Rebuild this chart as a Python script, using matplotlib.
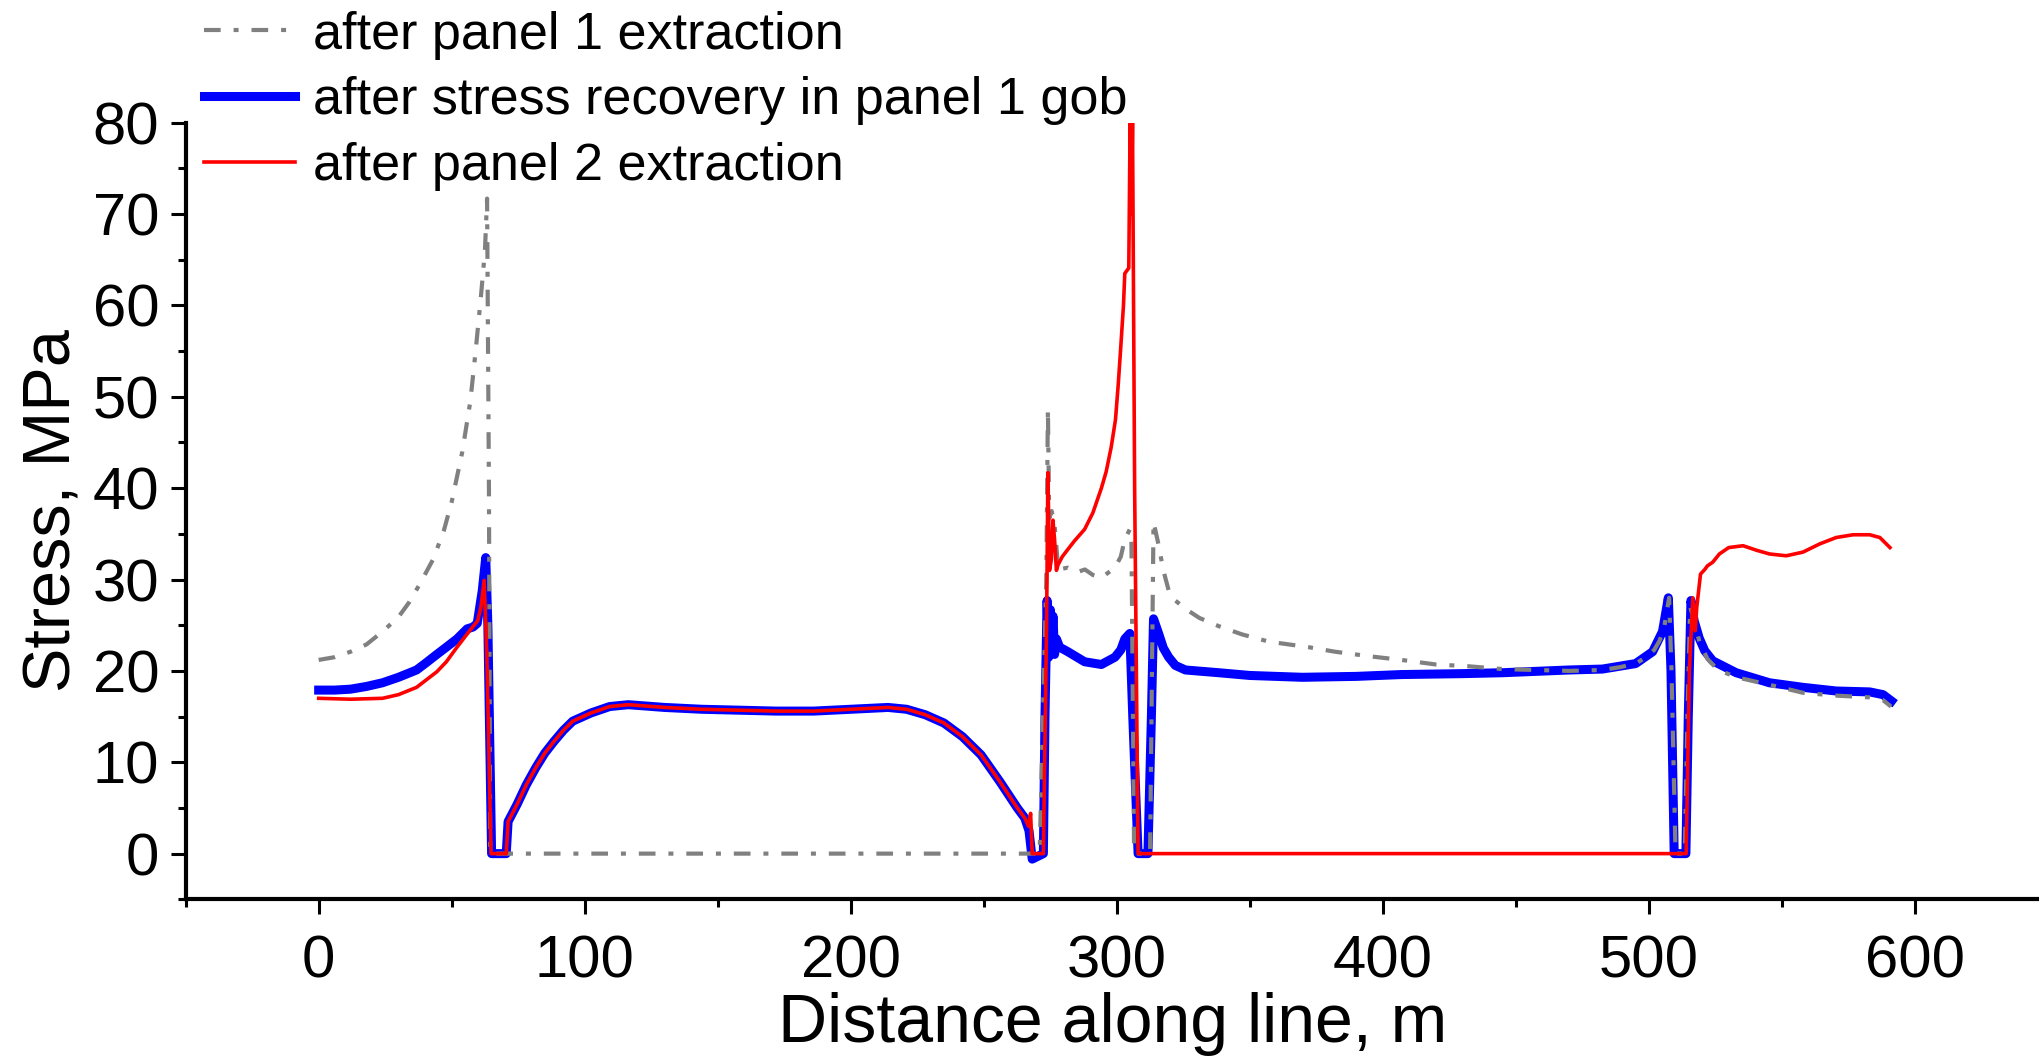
import numpy as np
import matplotlib
matplotlib.use("Agg")
import matplotlib.pyplot as plt
from matplotlib.ticker import MultipleLocator

plt.rcParams['font.family'] = ['Liberation Sans', 'DejaVu Sans']

# after panel 1 extraction (grey dash-dot)
x_p1 = [0, 6, 12, 18, 24, 30, 34, 38, 43, 47, 50, 54, 57, 59, 61, 62.5, 63.3, 64, 64.5,
        271, 273.5, 274.1, 274.6, 275.5, 276.6, 278, 281.6, 285, 288, 291, 294.2, 297, 299.3,
        301.5, 303, 304.9, 305.5, 306.5, 312.5, 313.8, 315.7, 317.5, 319.5, 322, 325.8, 331,
        338.3, 347, 357.2, 372, 382, 395, 407, 420, 432.5, 445, 470, 482.5, 489, 495, 499,
        502, 504, 505.7, 507.6, 508.5, 510, 513.5, 514.5, 515.5, 517, 519, 522, 526, 533,
        545, 558, 570, 583, 588, 591]
y_p1 = [21.2, 21.5, 22.1, 22.9, 24.3, 25.9, 27.5, 29.5, 32.2, 35.3, 38.5, 44, 49.5, 55, 61, 66, 71.7, 40, 0,
        0, 30, 48.7, 36.7, 37.5, 36, 31.1, 31.3, 30.8, 31.1, 30.5, 30.2, 30.8, 31.3,
        32.5, 34.4, 35.5, 34, 0, 0, 36.3, 33.8, 31, 28.8, 27.7, 26.8, 25.8,
        24.9, 24, 23.2, 22.6, 22.1, 21.6, 21.2, 20.7, 20.5, 20.2, 20.0, 20.1, 20.4, 20.8, 21.5,
        22.3, 23.3, 24.7, 28.0, 20, 0, 0, 15, 27, 25.5, 23.2, 21.3, 20.1, 19.3,
        18.5, 17.6, 17.3, 17.1, 16.8, 16.1]

# after stress recovery in panel 1 gob (blue)
x_rec = [0, 6, 12, 18, 24, 30, 36.8, 40, 44.4, 48, 52, 55.8, 58, 59.6, 61.5, 62.8, 63.6, 65,
         70.5, 71.2, 74.6, 78, 81.6, 85, 88.5, 92, 95.5, 102.4, 109.4, 116.4, 130, 144, 158,
         172, 186, 200, 214, 221, 228, 235, 242, 249, 256, 262.6, 265.4, 267, 268.2, 272.4,
         273, 273.8, 274.4, 275, 275.4, 276, 276.6, 277.3, 278.5, 281.6, 287.9, 294.2, 299.3,
         301.5, 303, 304.9, 306, 308, 311.7, 313, 313.8, 315.7, 317.5, 319.5, 322, 325.8,
         338.3, 350, 369.7, 390, 407, 430, 445, 470, 482.5, 495, 501.4, 505.1, 507.3, 508.3,
         509.5, 513.9, 514.8, 515.8, 517, 518.9, 521, 524, 532.8, 545.3, 557.9, 570.4, 583,
         588, 591.2]
y_rec = [17.9, 17.9, 18.0, 18.3, 18.7, 19.3, 20.1, 20.8, 21.8, 22.6, 23.5, 24.6, 24.8, 25.2, 28.8, 32.4, 25, 0,
         0, 3.5, 5.4, 7.5, 9.4, 11, 12.3, 13.5, 14.5, 15.4, 16.1, 16.3, 16.0, 15.8, 15.7,
         15.6, 15.6, 15.8, 16.0, 15.8, 15.2, 14.3, 12.8, 10.8, 7.9, 5.0, 3.9, 2.5, -0.6, 0,
         15, 27.7, 21.5, 26.7, 22, 26, 21.8, 23.5, 22.6, 22.1, 21.0, 20.7, 21.5,
         22.3, 23.5, 24.1, 15, 0, 0, 15, 25.7, 24.1, 22.5, 21.5, 20.6, 20.1,
         19.8, 19.5, 19.3, 19.4, 19.6, 19.7, 19.8, 20.1, 20.2, 20.8, 22.1, 24.3, 28.0, 20,
         0, 0, 15, 27.7, 25.5, 23.6, 22.2, 21.1, 19.8, 18.7, 18.2, 17.8, 17.7,
         17.4, 16.7]

# after panel 2 extraction (red)
x_p2 = [0, 12, 24, 30, 36.8, 44.4, 48, 52, 56.5, 59.8, 61, 62.2, 63.2, 64.8,
        70.5, 71.2, 74.6, 78, 81.6, 85, 88.5, 92, 95.5, 102.4, 109.4, 116.4, 130, 144, 158,
        172, 186, 200, 214, 221, 228, 235, 242, 249, 256, 262.6, 265.4, 266.8, 267.6, 268.2,
        272.4, 273.6, 274.1, 274.7, 275.4, 276, 276.6, 277.3, 277.9, 279.5, 281.6, 284, 287.9,
        291, 294.2, 296, 297.9, 299.5, 300.5, 301.5, 302.5, 303, 304.5, 305, 305.5, 305.9,
        306.7, 308, 514, 515.2, 516.5, 517.4, 518, 519.4, 521, 522, 524, 526.5, 530, 535.4,
        540.5, 545.3, 551.6, 557.9, 564.2, 570.4, 576.7, 583, 586.8, 590.6]
y_p2 = [17.0, 16.9, 17.0, 17.4, 18.2, 19.9, 21.0, 22.6, 24.3, 25.5, 27, 29.9, 22, 0,
        0, 3.5, 5.4, 7.5, 9.4, 11, 12.3, 13.5, 14.5, 15.4, 16.1, 16.3, 16.0, 15.8, 15.7,
        15.6, 15.6, 15.8, 16.0, 15.8, 15.2, 14.3, 12.8, 10.8, 7.9, 5.0, 3.9, 3, 4.4, 0,
        0, 25, 41.7, 31, 32.2, 36.5, 34.4, 31, 31.6, 32.5, 33.3, 34.2, 35.5,
        37.3, 40.0, 41.8, 44.5, 47.5, 51.2, 55.5, 60, 63.5, 64.1, 80, 70, 80,
        40, 0, 0, 20, 28.0, 24.4, 27, 30.6, 31.1, 31.5, 31.9, 32.8, 33.5, 33.7,
        33.2, 32.8, 32.6, 33.0, 33.9, 34.6, 34.9, 34.9, 34.6, 33.5]

fig = plt.figure(figsize=(20.4, 10.58), dpi=100)
ax = fig.add_axes([0.091, 0.150, 0.909, 0.734])

l_rec, = ax.plot(x_rec, y_rec, color='#0000ff', lw=6.5, solid_joinstyle='round',
                 label='after stress recovery in panel 1 gob', zorder=2)
l_p1, = ax.plot(x_p1, y_p1, color='#808080', lw=3, linestyle=(0, (4, 3.1, 1.2, 3.1)),
                label='after panel 1 extraction', zorder=3)
l_p2, = ax.plot(x_p2, y_p2, color='#ff0000', lw=2.6, label='after panel 2 extraction', zorder=4)

ax.set_xlim(-50, 647)
ax.set_ylim(-5, 80)
ax.xaxis.set_major_locator(MultipleLocator(100))
ax.xaxis.set_minor_locator(MultipleLocator(50))
ax.yaxis.set_major_locator(MultipleLocator(10))
ax.yaxis.set_minor_locator(MultipleLocator(5))

for s in ['top', 'right']:
    ax.spines[s].set_visible(False)
for s in ['left', 'bottom']:
    ax.spines[s].set_linewidth(3)

ax.tick_params(which='major', length=11, width=2.2, labelsize=43, pad=8)
ax.tick_params(which='minor', length=6, width=2.2)
ax.tick_params(axis='x', which='major', pad=14)

ax.set_xlabel('Distance along line, m', fontsize=49, labelpad=2)
ax.set_ylabel('Stress, MPa', fontsize=48, labelpad=6)

leg = fig.legend(handles=[l_p1, l_rec, l_p2], loc='upper left',
                 bbox_to_anchor=(0.1, 0.99), frameon=False, fontsize=37.5,
                 handlelength=1.75, handletextpad=0.35, labelspacing=0.32,
                 borderpad=0.0, borderaxespad=0.0)

fig.savefig('out.png', dpi=100)
